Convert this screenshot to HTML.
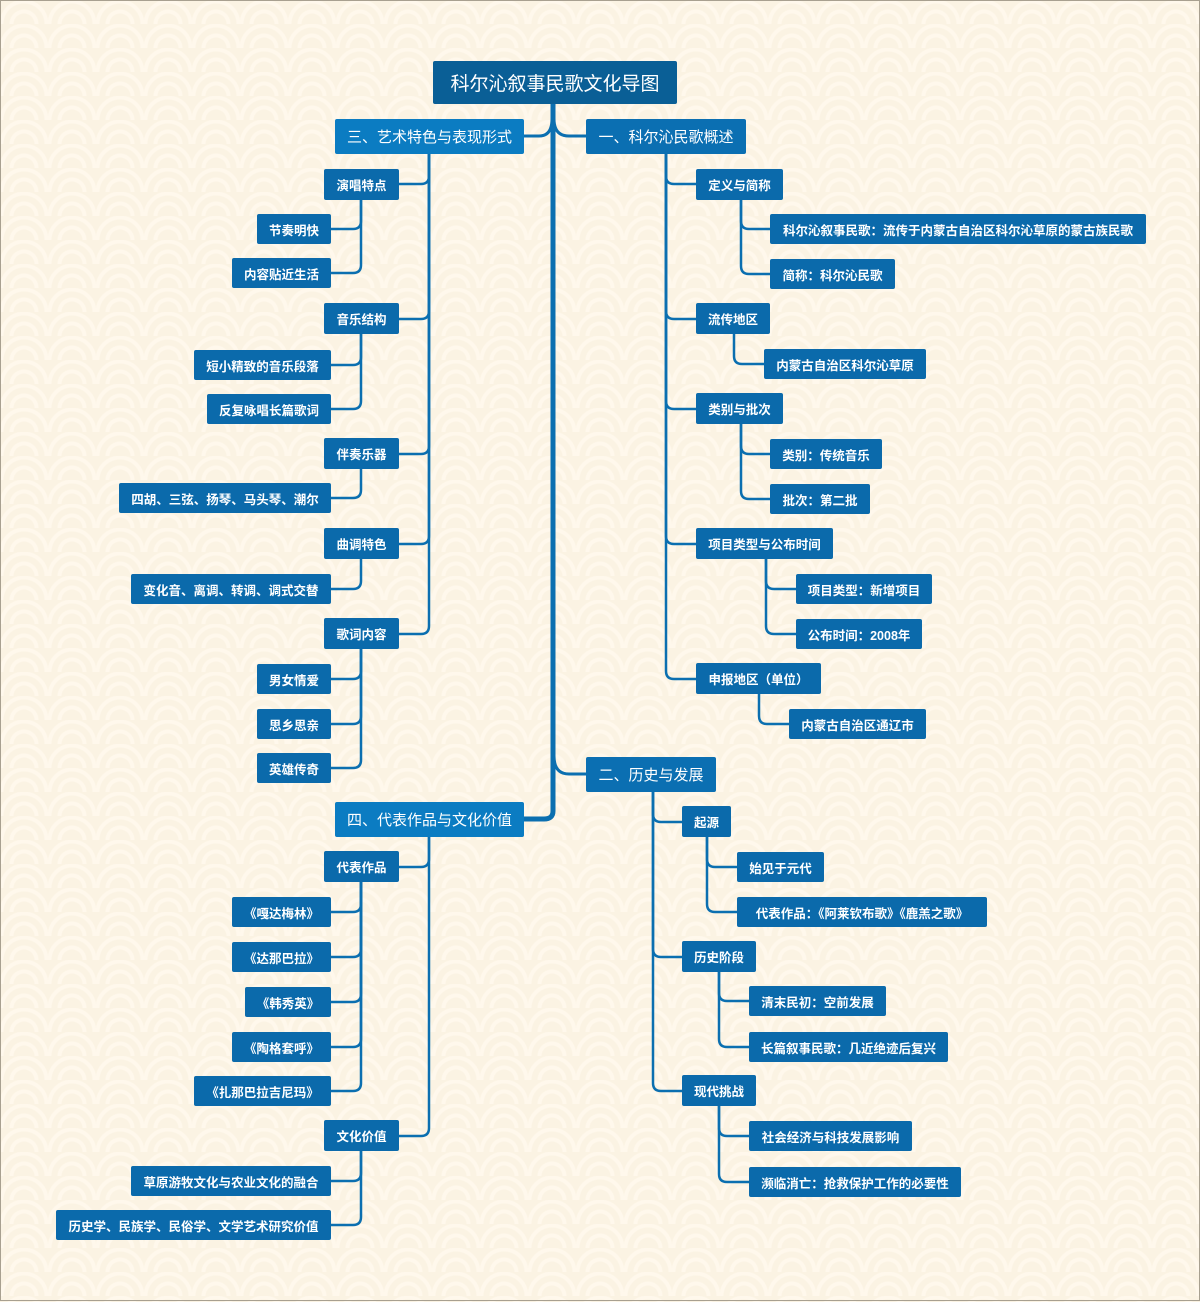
<!DOCTYPE html>
<html><head><meta charset="utf-8"><style>
html,body{margin:0;padding:0}
body{width:1200px;height:1301px;position:relative;overflow:hidden;background:#fbf3e3;
background-image:radial-gradient(circle at 50% 100%, transparent 10px,#fff8ec 11px,#fff8ec 14px,transparent 15px, transparent 20px,#fff8ec 21px,#fff8ec 24px,transparent 25px);
background-size:48px 24px;font-family:"Liberation Sans","Noto Sans CJK SC",sans-serif;box-sizing:border-box;border:1px solid #a8a090}
.n{position:absolute;display:flex;align-items:center;justify-content:center;color:#fff;font-size:12.5px;font-weight:bold;background:#0b6aab;border-radius:2px;box-sizing:border-box;white-space:nowrap}
.s{height:30px}
.m{height:31px}
.b{font-size:15px;font-weight:normal;height:35px;background:#0b6fb2}
svg{position:absolute;left:0;top:0}
path{fill:none;stroke:#0b6fb0;stroke-width:2.5}
</style></head><body>
<svg width="1200" height="1301">
<path style="stroke-width:5" d="M552,103 V810 Q552,818 543,818 H523"/>
<path style="stroke-width:3" d="M551,118 Q551,135 538,135 H523"/>
<path style="stroke-width:3" d="M553,118 Q553,135 568,135 H585"/>
<path style="stroke-width:3" d="M553,755 Q553,773 568,773 H585"/>
<path d="M428,153 V175 Q428,183 420,183 H398"/>
<path d="M428,153 V310 Q428,318 420,318 H398"/>
<path d="M428,153 V445 Q428,453 420,453 H398"/>
<path d="M428,153 V535 Q428,543 420,543 H398"/>
<path d="M428,153 V625 Q428,633 420,633 H398"/>
<path d="M360,199 V220 Q360,228 352,228 H330"/>
<path d="M360,199 V264 Q360,272 352,272 H330"/>
<path d="M360,333 V356 Q360,364 352,364 H330"/>
<path d="M360,333 V400 Q360,408 352,408 H330"/>
<path d="M360,468 V489 Q360,497 352,497 H330"/>
<path d="M360,558 V580 Q360,588 352,588 H330"/>
<path d="M360,648 V670 Q360,678 352,678 H330"/>
<path d="M360,648 V715 Q360,723 352,723 H330"/>
<path d="M360,648 V759 Q360,767 352,767 H330"/>
<path d="M428,835 V858 Q428,866 420,866 H398"/>
<path d="M428,835 V1127 Q428,1135 420,1135 H398"/>
<path d="M360,881 V903 Q360,911 352,911 H330"/>
<path d="M360,881 V948 Q360,956 352,956 H330"/>
<path d="M360,881 V993 Q360,1001 352,1001 H330"/>
<path d="M360,881 V1038 Q360,1046 352,1046 H330"/>
<path d="M360,881 V1082 Q360,1090 352,1090 H330"/>
<path d="M360,1150 V1172 Q360,1180 352,1180 H330"/>
<path d="M360,1150 V1216 Q360,1224 352,1224 H330"/>
<path d="M665,153 V175 Q665,183 673,183 H695"/>
<path d="M665,153 V310 Q665,318 673,318 H695"/>
<path d="M665,153 V400 Q665,408 673,408 H695"/>
<path d="M665,153 V535 Q665,543 673,543 H695"/>
<path d="M665,153 V670 Q665,678 673,678 H695"/>
<path d="M740,199 V220 Q740,228 748,228 H769"/>
<path d="M740,199 V265 Q740,273 748,273 H769"/>
<path d="M733,333 V355 Q733,363 741,363 H763"/>
<path d="M740,423 V445 Q740,453 748,453 H769"/>
<path d="M740,423 V490 Q740,498 748,498 H769"/>
<path d="M765,558 V580 Q765,588 773,588 H795"/>
<path d="M765,558 V625 Q765,633 773,633 H795"/>
<path d="M758,693 V715 Q758,723 766,723 H788"/>
<path d="M652,790 V813 Q652,821 660,821 H681"/>
<path d="M652,790 V948 Q652,956 660,956 H681"/>
<path d="M652,790 V1082 Q652,1090 660,1090 H681"/>
<path d="M706,836 V858 Q706,866 714,866 H736"/>
<path d="M706,836 V903 Q706,911 714,911 H736"/>
<path d="M718,971 V992 Q718,1000 726,1000 H748"/>
<path d="M718,971 V1038 Q718,1046 726,1046 H748"/>
<path d="M718,1105 V1127 Q718,1135 726,1135 H748"/>
<path d="M718,1105 V1173 Q718,1181 726,1181 H748"/>
</svg>
<div class="n" style="left:432px;top:60px;width:244px;height:43px;font-size:19px;font-weight:normal;background:#0a5f96">科尔沁叙事民歌文化导图</div>
<div class="n b" style="left:334px;top:118px;width:189px;background:#0b7cc2">三、艺术特色与表现形式</div>
<div class="n b" style="left:585px;top:118px;width:160px">一、科尔沁民歌概述</div>
<div class="n b" style="left:334px;top:801px;width:189px;background:#0b7cc2">四、代表作品与文化价值</div>
<div class="n b" style="left:585px;top:756px;width:130px">二、历史与发展</div>

<div class="n m" style="left:323px;top:168px;width:75px">演唱特点</div>
<div class="n s" style="left:256px;top:213px;width:74px">节奏明快</div>
<div class="n s" style="left:231px;top:257px;width:99px">内容贴近生活</div>
<div class="n m" style="left:323px;top:302px;width:75px">音乐结构</div>
<div class="n s" style="left:193px;top:349px;width:137px">短小精致的音乐段落</div>
<div class="n s" style="left:206px;top:393px;width:124px">反复咏唱长篇歌词</div>
<div class="n m" style="left:323px;top:437px;width:75px">伴奏乐器</div>
<div class="n s" style="left:118px;top:482px;width:212px">四胡、三弦、扬琴、马头琴、潮尔</div>
<div class="n m" style="left:323px;top:527px;width:75px">曲调特色</div>
<div class="n s" style="left:130px;top:573px;width:200px">变化音、离调、转调、调式交替</div>
<div class="n m" style="left:323px;top:617px;width:75px">歌词内容</div>
<div class="n s" style="left:256px;top:663px;width:74px">男女情爱</div>
<div class="n s" style="left:256px;top:708px;width:74px">思乡思亲</div>
<div class="n s" style="left:256px;top:752px;width:74px">英雄传奇</div>

<div class="n m" style="left:323px;top:850px;width:75px">代表作品</div>
<div class="n s" style="left:231px;top:896px;width:99px">《嘎达梅林》</div>
<div class="n s" style="left:231px;top:941px;width:99px">《达那巴拉》</div>
<div class="n s" style="left:244px;top:986px;width:86px">《韩秀英》</div>
<div class="n s" style="left:231px;top:1031px;width:99px">《陶格套呼》</div>
<div class="n s" style="left:193px;top:1075px;width:137px">《扎那巴拉吉尼玛》</div>
<div class="n m" style="left:323px;top:1119px;width:75px">文化价值</div>
<div class="n s" style="left:130px;top:1165px;width:200px">草原游牧文化与农业文化的融合</div>
<div class="n s" style="left:55px;top:1209px;width:275px">历史学、民族学、民俗学、文学艺术研究价值</div>

<div class="n m" style="left:695px;top:168px;width:87px">定义与简称</div>
<div class="n s" style="left:769px;top:213px;width:376px">科尔沁叙事民歌：流传于内蒙古自治区科尔沁草原的蒙古族民歌</div>
<div class="n s" style="left:769px;top:258px;width:125px">简称：科尔沁民歌</div>
<div class="n m" style="left:695px;top:302px;width:74px">流传地区</div>
<div class="n s" style="left:763px;top:348px;width:162px">内蒙古自治区科尔沁草原</div>
<div class="n m" style="left:695px;top:392px;width:87px">类别与批次</div>
<div class="n s" style="left:769px;top:438px;width:112px">类别：传统音乐</div>
<div class="n s" style="left:769px;top:483px;width:100px">批次：第二批</div>
<div class="n m" style="left:695px;top:527px;width:137px">项目类型与公布时间</div>
<div class="n s" style="left:795px;top:573px;width:136px">项目类型：新增项目</div>
<div class="n s" style="left:795px;top:618px;width:126px">公布时间：2008年</div>
<div class="n m" style="left:695px;top:662px;width:125px">申报地区（单位）</div>
<div class="n s" style="left:788px;top:708px;width:137px">内蒙古自治区通辽市</div>

<div class="n m" style="left:681px;top:805px;width:49px">起源</div>
<div class="n s" style="left:736px;top:851px;width:87px">始见于元代</div>
<div class="n s" style="left:736px;top:896px;width:250px">代表作品：《阿莱钦布歌》《鹿羔之歌》</div>
<div class="n m" style="left:681px;top:940px;width:74px">历史阶段</div>
<div class="n s" style="left:748px;top:985px;width:137px">清末民初：空前发展</div>
<div class="n s" style="left:748px;top:1031px;width:199px">长篇叙事民歌：几近绝迹后复兴</div>
<div class="n m" style="left:681px;top:1074px;width:74px">现代挑战</div>
<div class="n s" style="left:748px;top:1120px;width:163px">社会经济与科技发展影响</div>
<div class="n s" style="left:748px;top:1166px;width:212px">濒临消亡：抢救保护工作的必要性</div>
</body></html>
